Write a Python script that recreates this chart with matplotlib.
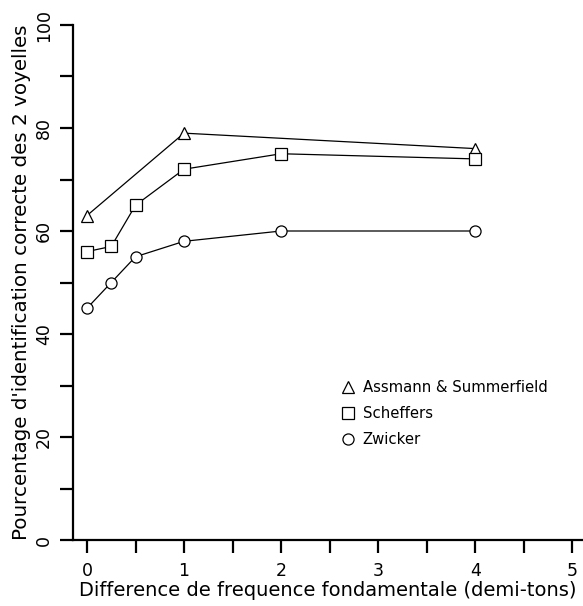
import matplotlib
matplotlib.use('Agg')
import matplotlib.pyplot as plt
from matplotlib.lines import Line2D

# demi-tons de difference de F0
x_assmann = [0, 1, 4]
y_assmann = [63, 79, 76]
x_scheffers = [0, 0.25, 0.5, 1, 2, 4]
y_scheffers = [56, 57, 65, 72, 75, 74]
x_zwicker = [0, 0.25, 0.5, 1, 2, 4]
y_zwicker = [45, 50, 55, 58, 60, 60]

labels = ['Assmann & Summerfield', 'Scheffers', 'Zwicker']
markers = ['^', 's', 'o']
xticks = [0, 1, 2, 3, 4, 5]
yticks = [0, 20, 40, 60, 80, 100]

plt.rcParams['font.family'] = 'DejaVu Sans'

fig = plt.figure(figsize=(5.83, 6.06), dpi=100)
ax = fig.add_axes([73 / 583, 66 / 606, 510 / 583, 515 / 606])

series = [(x_assmann, y_assmann), (x_scheffers, y_scheffers), (x_zwicker, y_zwicker)]
for (xs, ys), m in zip(series, markers):
    ax.plot(xs, ys, color='black', lw=0.9, marker=m, markersize=8 if m != '^' else 8.5,
            markerfacecolor='white', markeredgecolor='black', markeredgewidth=0.9,
            clip_on=False)

ax.set_xlim(-0.144, 5.11)
ax.set_ylim(0, 100)
for s in ['top', 'right']:
    ax.spines[s].set_visible(False)
for s in ['left', 'bottom']:
    ax.spines[s].set_linewidth(1.6)

ax.set_xticks(xticks)
ax.set_xticks([0.5, 1.5, 2.5, 3.5, 4.5], minor=True)
ax.set_yticks(yticks)
ax.set_yticks([10, 30, 50, 70, 90], minor=True)
ax.tick_params(which='both', direction='out', length=9.5, width=1.6, labelsize=12.5, pad=6)
ax.tick_params(axis='y', labelrotation=90, pad=5)
for lab in ax.get_yticklabels():
    lab.set_verticalalignment('center')

ax.set_xlabel('Difference de frequence fondamentale (demi-tons)', fontsize=14, labelpad=1)
ax.set_ylabel("Pourcentage d'identification correcte des 2 voyelles", fontsize=14.3, labelpad=3)

handles = [Line2D([], [], ls='none', marker=m, color='black', markerfacecolor='white',
                  markersize=8, markeredgewidth=0.9) for m in markers]
ax.legend(handles, labels, loc='upper left', bbox_to_anchor=(336 / 583, 1 - 374 / 606),
          bbox_transform=fig.transFigure, frameon=False, fontsize=10.7, handlelength=0.8,
          handletextpad=0.6, labelspacing=0.75, borderaxespad=0)

fig.savefig('out.png', dpi=100)
